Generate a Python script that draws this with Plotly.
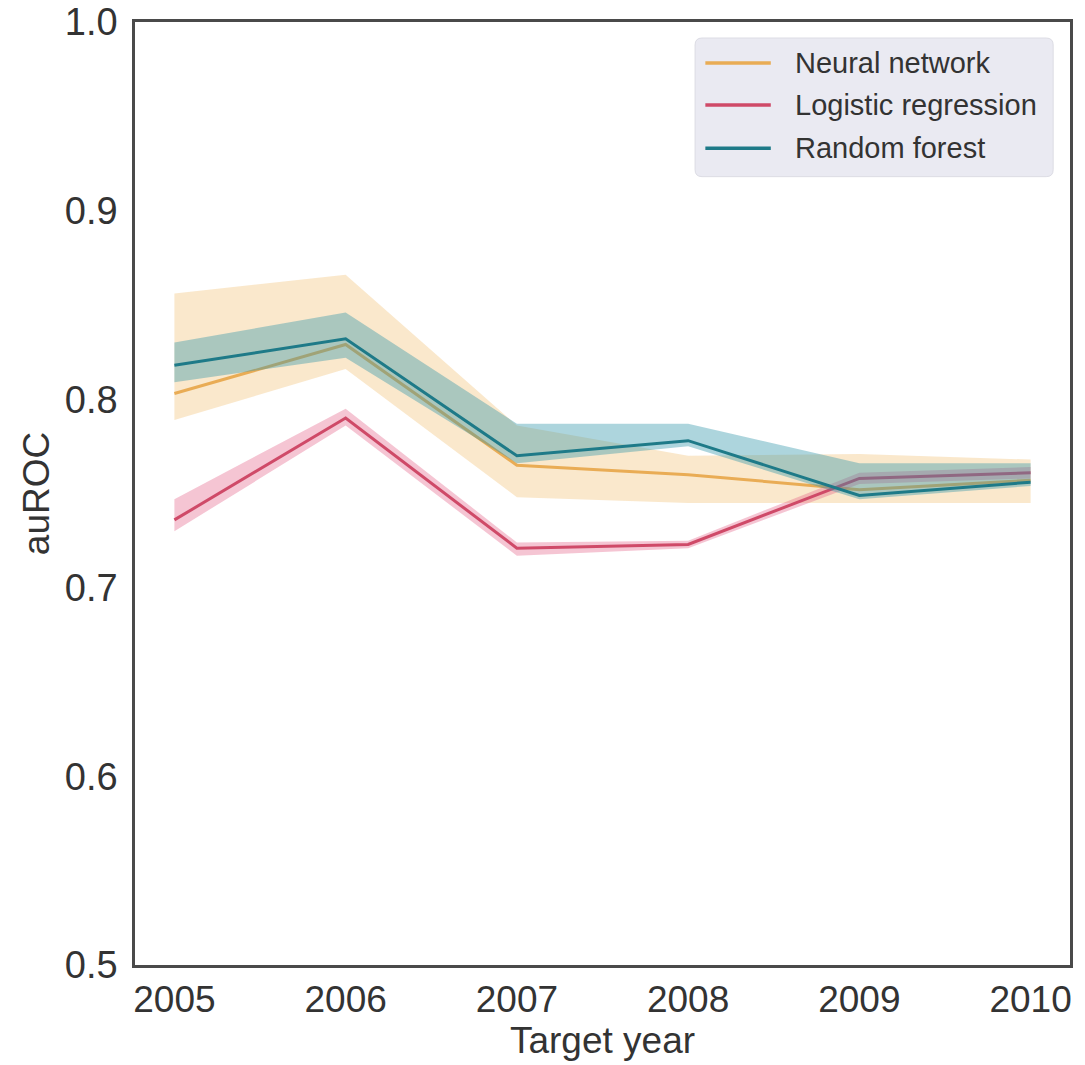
import plotly.graph_objects as go

years = [2005, 2006, 2007, 2008, 2009, 2010]

nn_mean = [0.803, 0.829, 0.765, 0.760, 0.752, 0.757]
nn_low = [0.789, 0.816, 0.748, 0.745, 0.745, 0.745]
nn_high = [0.856, 0.866, 0.786, 0.770, 0.771, 0.768]

lr_mean = [0.736, 0.790, 0.721, 0.723, 0.758, 0.761]
lr_low = [0.730, 0.786, 0.717, 0.721, 0.755, 0.758]
lr_high = [0.747, 0.795, 0.724, 0.725, 0.761, 0.764]

rf_mean = [0.818, 0.832, 0.770, 0.778, 0.749, 0.756]
rf_low = [0.809, 0.822, 0.766, 0.775, 0.747, 0.754]
rf_high = [0.830, 0.846, 0.787, 0.787, 0.766, 0.766]

names = ["Neural network", "Logistic regression", "Random forest"]
line_colors = ["#E9AC55", "#CF4A68", "#1E7A88"]
fill_colors = ["rgba(240,190,110,0.35)", "rgba(225,90,130,0.35)", "rgba(50,150,170,0.40)"]

y_ticks = [0.5, 0.6, 0.7, 0.8, 0.9, 1.0]
y_ticktext = ["0.5", "0.6", "0.7", "0.8", "0.9", "1.0"]

series = list(zip(names, [nn_mean, lr_mean, rf_mean], [nn_low, lr_low, rf_low],
                  [nn_high, lr_high, rf_high], line_colors, fill_colors))

FONT = "Liberation Sans, Arial, sans-serif"
TXT = "#333333"

fig = go.Figure()
for name, m, lo, hi, lc, fc in series:
    fig.add_trace(go.Scatter(
        x=years + years[::-1], y=hi + lo[::-1], fill="toself", fillcolor=fc,
        line=dict(width=0), mode="lines", hoverinfo="skip", showlegend=False))
    fig.add_trace(go.Scatter(
        x=years, y=m, mode="lines", name=name, showlegend=False,
        line=dict(color=lc, width=3)))

# ---- manual legend (paper coordinates) ----
PW, PH = 935.0, 943.0
lx0, lx1, ly0, ly1 = 0.599, 0.982, 0.836, 0.983
rx, ry = 7 / PW, 7 / PH
path = (f"M {lx0+rx},{ly1} L {lx1-rx},{ly1} Q {lx1},{ly1} {lx1},{ly1-ry} "
        f"L {lx1},{ly0+ry} Q {lx1},{ly0} {lx1-rx},{ly0} L {lx0+rx},{ly0} "
        f"Q {lx0},{ly0} {lx0},{ly0+ry} L {lx0},{ly1-ry} Q {lx0},{ly1} {lx0+rx},{ly1} Z")
shapes = [dict(type="path", xref="paper", yref="paper", path=path,
               fillcolor="#EAEAF2", line=dict(color="#DCDCE4", width=1), layer="above")]
annotations = []
row_y = [0.9565, 0.912, 0.866]
for name, lc, yy in zip(names, line_colors, row_y):
    shapes.append(dict(type="line", xref="paper", yref="paper", x0=0.610, x1=0.680,
                       y0=yy, y1=yy, line=dict(color=lc, width=3.5), layer="above"))
    annotations.append(dict(xref="paper", yref="paper", x=0.7037, y=yy, text=name,
                            showarrow=False, xanchor="left", yanchor="middle",
                            font=dict(family=FONT, size=29, color=TXT)))

fig.update_layout(
    width=1085, height=1065,
    margin=dict(l=135, r=15, t=22, b=100, autoexpand=False),
    paper_bgcolor="white", plot_bgcolor="white",
    font=dict(family=FONT, size=37, color=TXT),
    showlegend=False,
    shapes=shapes, annotations=annotations,
    xaxis=dict(
        range=[2004.77, 2010.23], tickmode="array", tickvals=years,
        ticktext=[str(y) for y in years], showgrid=False, zeroline=False,
        showline=True, linecolor="#4a4a4a", linewidth=2.5, mirror=True,
        ticks="", tickfont=dict(size=37), automargin=False,
        title=dict(text="Target year", font=dict(size=37), standoff=4),
    ),
    yaxis=dict(
        range=[0.5, 1.0], tickmode="array", tickvals=y_ticks,
        ticktext=y_ticktext, showgrid=False, zeroline=False,
        showline=True, linecolor="#4a4a4a", linewidth=2.5, mirror=True,
        ticks="", tickfont=dict(size=38), ticklabeloverflow="allow",
        ticklabelstandoff=7, automargin=False,
        title=dict(text="auROC", font=dict(size=37), standoff=4),
    ),
)

fig.write_html("out.html", config={"displayModeBar": False},
               post_script="document.body.style.margin='0px';")
